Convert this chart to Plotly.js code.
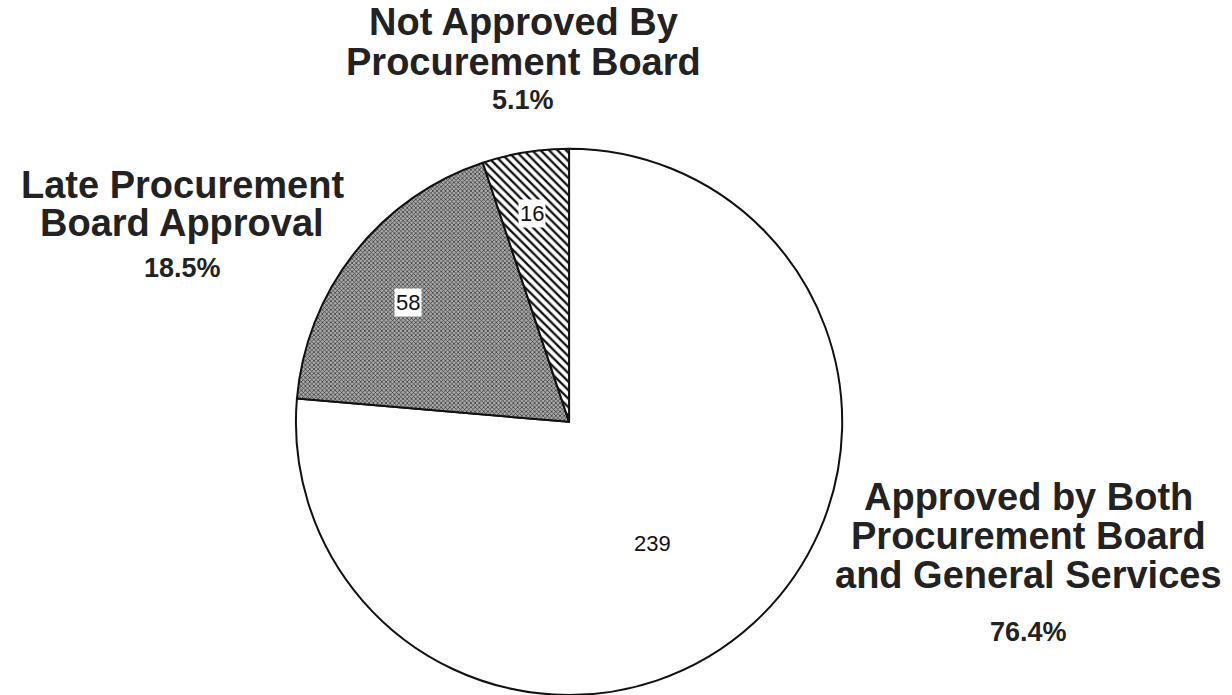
<!DOCTYPE html>
<html>
<head>
<meta charset="utf-8">
<script src="https://cdn.plot.ly/plotly-3.0.1.min.js"></script>
<style>html,body{margin:0;padding:0;background:#fff;overflow:hidden;}#chart{width:1232px;height:695px;}</style>
</head>
<body>
<div id="chart"></div>
<script>
// ---- data ----
const categories = [
  "Approved by Both Procurement Board and General Services",
  "Late Procurement Board Approval",
  "Not Approved By Procurement Board"
];
const counts = [239, 58, 16];
const labelLines = [
  ["Approved by Both", "Procurement Board", "and General Services"],
  ["Late Procurement", "Board Approval"],
  ["Not Approved By", "Procurement Board"]
];

// ---- layout helpers (pixel positions for text) ----
const W = 1232, H = 695;
const px = x => x / W;
const py = y => 1 - y / H;
const total = counts.reduce((a, b) => a + b, 0);
const pct = counts.map(v => (100 * v / total).toFixed(1) + "%");

const labelFont = {family: "Liberation Sans, Arial, sans-serif", size: 38, color: "#222", weight: 700};
const pctFont = {family: "Liberation Sans, Arial, sans-serif", size: 27, color: "#222", weight: 700};
const valFont = {family: "Liberation Sans, Arial, sans-serif", size: 22, color: "#111"};

// label block anchors: [centerX, firstLineY, lineStep, pctY]
const labelPos = [
  [1028, 497, 39, 632],
  [182, 185, 38, 268],
  [523, 22, 40, 100]
];
// value label centers
const valuePos = [[652, 543], [408, 302], [532, 214]];
const valueBg = ["rgba(0,0,0,0)", "#ffffff", "#ffffff"];

const annotations = [];
labelLines.forEach((lines, i) => {
  const [cx, y0, step, yp] = labelPos[i];
  lines.forEach((t, j) => {
    annotations.push({text: t, x: px(cx), y: py(y0 + j * step), xref: "paper", yref: "paper",
      xanchor: "center", yanchor: "middle", showarrow: false, font: labelFont});
  });
  annotations.push({text: pct[i], x: px(cx), y: py(yp), xref: "paper", yref: "paper",
    xanchor: "center", yanchor: "middle", showarrow: false, font: pctFont});
});
counts.forEach((v, i) => {
  annotations.push({text: String(v), x: px(valuePos[i][0]), y: py(valuePos[i][1]), xref: "paper", yref: "paper",
    xanchor: "center", yanchor: "middle", showarrow: false, font: valFont,
    bgcolor: valueBg[i], borderpad: 1});
});

const trace = {
  type: "pie",
  labels: categories,
  values: counts,
  sort: false,
  direction: "clockwise",
  rotation: 0,
  textinfo: "none",
  hoverinfo: "label+value+percent",
  domain: {x: [0.2395, 0.6843], y: [0, 0.786]},
  marker: {
    colors: ["#ffffff", "#8f8f8f", "#ffffff"],
    line: {color: "#111", width: 2},
    pattern: {
      shape: ["", "x", "\\"],
      fgcolor: ["#000", "#2a2a2a", "#111"],
      bgcolor: ["#ffffff", "#ababab", "#ffffff"],
      size: [8, 3, 6],
      solidity: [0.3, 0.4, 0.38]
    }
  }
};

const layout = {
  width: W, height: H,
  margin: {l: 0, r: 0, t: 0, b: 0},
  paper_bgcolor: "#ffffff",
  plot_bgcolor: "#ffffff",
  showlegend: false,
  annotations: annotations
};

Plotly.newPlot("chart", [trace], layout, {displayModeBar: false, staticPlot: true});
</script>
</body>
</html>
